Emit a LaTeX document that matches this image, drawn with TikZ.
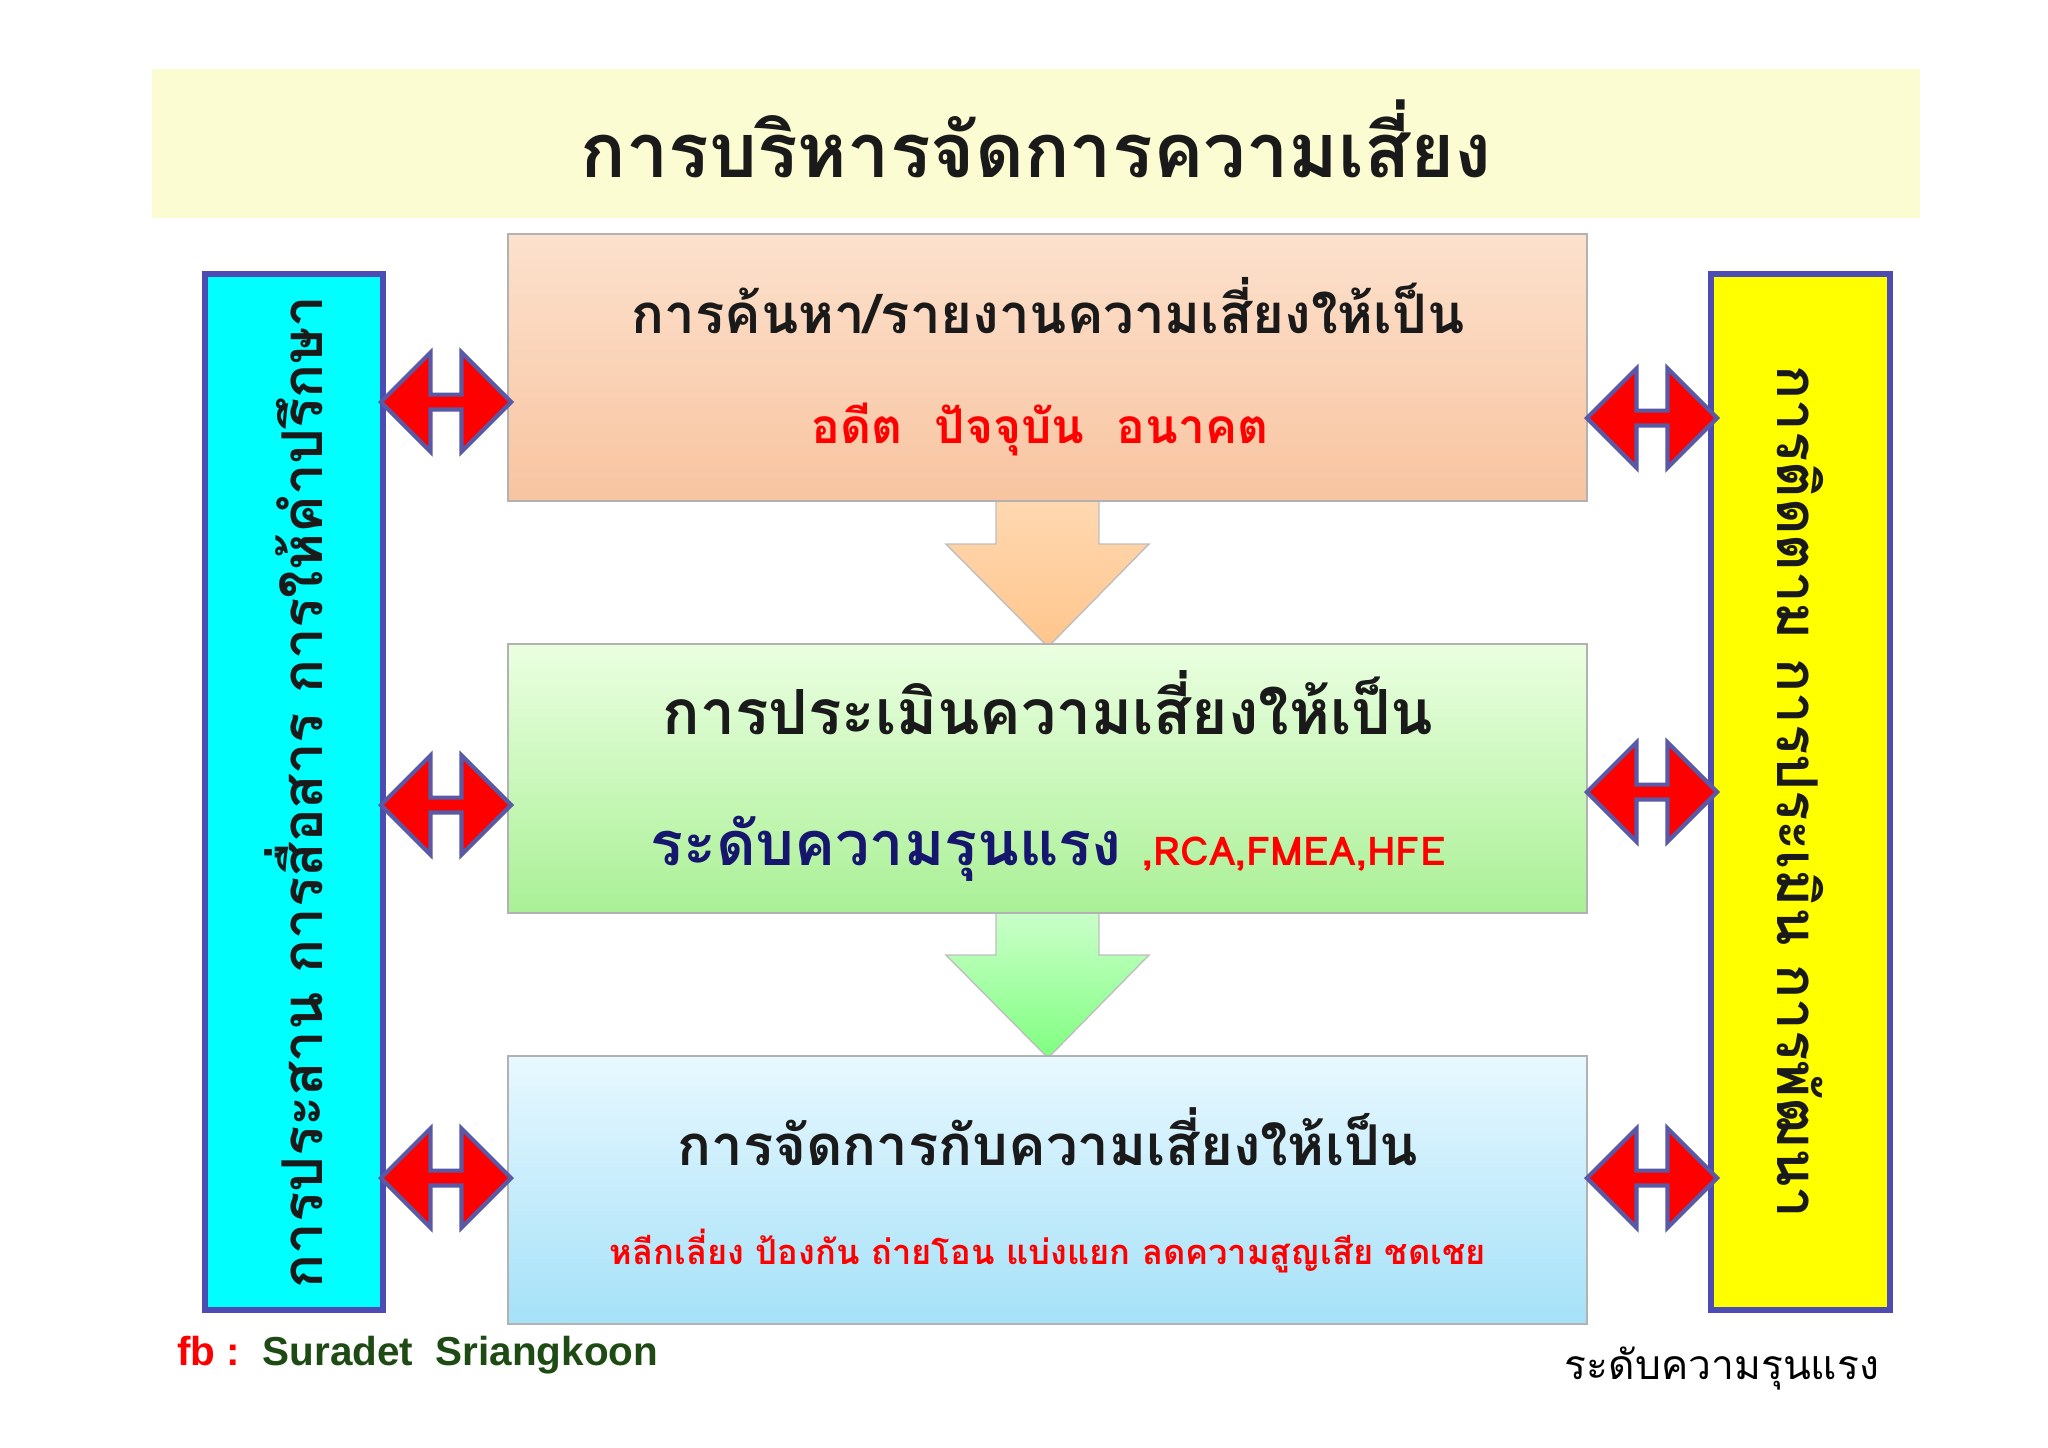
\documentclass[tikz,border=0pt]{standalone}
\usepackage{fontspec}
\newfontfamily\thai[Script=Thai]{Loma}
\setmainfont{Liberation Sans}
\usetikzlibrary{shapes.arrows}
\definecolor{titlebg}{HTML}{FCFCD2}
\definecolor{dk}{HTML}{1A1A1A}
\definecolor{navy}{HTML}{16166E}
\definecolor{fbgreen}{HTML}{1E4A14}
\definecolor{cyanbox}{HTML}{00FFFF}
\definecolor{yellowbox}{HTML}{FFFF00}
\tikzset{
 box/.style={draw=gray!60, line width=0.6pt},
 side/.style={draw=blue!40!gray, line width=1.5pt},
 dbl/.style={double arrow, fill=red, draw=gray!70!blue, line width=1.2pt, minimum width=0.99cm, minimum height=1.3cm, double arrow head extend=0.12cm, inner sep=0pt},
 down/.style={draw=gray!50, line width=0.4pt},
 head/.style={font=\thai\bfseries\fontsize{15.5}{15.5}\selectfont, text=dk},
}
\begin{document}
\begin{tikzpicture}[x=0.01cm,y=-0.01cm]
\useasboundingbox (0,0) rectangle (2048,1447);
\fill[white] (0,0) rectangle (2048,1447);
\fill[titlebg] (152,69) rectangle (1920,218);
\node[font=\thai\bfseries\fontsize{21.5}{21.5}\selectfont, text=dk] (title) at (1036,139) {การบริหารจัดการความเสี่ยง};
% arrows between boxes
\path[down, top color=orange!30, bottom color=orange!45] (996,495) -- (1099,495) -- (1099,544) -- (1149,544) -- (1048,647) -- (946,544) -- (996,544) -- cycle;
\node (d1) at (1048,574) {};
\path[down, top color=green!20, bottom color=green!50] (996,908) -- (1099,908) -- (1099,955) -- (1149,955) -- (1048,1058) -- (946,955) -- (996,955) -- cycle;
\node (d2) at (1048,985) {};
% boxes
\path[box, top color={rgb,255:red,252;green,225;blue,205}, bottom color={rgb,255:red,248;green,196;blue,160}] (508,234) rectangle (1587,501);
\node (b1) at (1048,367) {};
\path[box, top color={rgb,255:red,235;green,255;blue,225}, bottom color={rgb,255:red,170;green,240;blue,150}] (508,644) rectangle (1587,913);
\node (b2) at (1048,778) {};
\path[box, top color={rgb,255:red,232;green,248;blue,255}, bottom color={rgb,255:red,165;green,225;blue,248}] (508,1056) rectangle (1587,1324);
\node (b3) at (1048,1190) {};
\node[head] (t1) at (1048,306) {การค้นหา/รายงานความเสี่ยงให้เป็น};
\node[font=\thai\bfseries\fontsize{13.6}{13.6}\selectfont, text=red] (t1b) at (1040,429) {อดีต\ \ ปัจจุบัน\ \ อนาคต};
\node[head, font=\thai\bfseries\fontsize{17.7}{17.7}\selectfont] (t2) at (1048,703) {การประเมินความเสี่ยงให้เป็น};
\node[anchor=base, inner sep=0pt] (t2b) at (1048,865) {\thai\bfseries\fontsize{17.4}{17.4}\selectfont\color{navy}ระดับความรุนแรง \fontsize{11.3}{11.3}\selectfont\color{red},RCA,FMEA,HFE};
\node[head, font=\thai\bfseries\fontsize{16}{16}\selectfont] (t3) at (1048,1137) {การจัดการกับความเสี่ยงให้เป็น};
\node[font=\thai\bfseries\fontsize{9.8}{9.8}\selectfont, text=red] (t3b) at (1048,1251) {หลีกเลี่ยง ป้องกัน ถ่ายโอน แบ่งแยก ลดความสูญเสีย ชดเชย};
% side boxes
\draw[side, fill=cyanbox] (205,274) rectangle (383,1310);
\node[rotate=90, font=\thai\bfseries\fontsize{16}{16}\selectfont, text=dk] (lt) at (294,792) {การประสาน การสื่อสาร การให้คำปรึกษา};
\draw[side, fill=yellowbox] (1711,274) rectangle (1890,1310);
\node[rotate=-90, font=\thai\bfseries\fontsize{16}{16}\selectfont, text=dk] (rt) at (1800,792) {การติดตาม การประเมิน การพัฒนา};
% double arrows
\node[dbl] (l1) at (446,402) {};
\node[dbl] (l2) at (446,805) {};
\node[dbl] (l3) at (446,1178) {};
\node[dbl] (r1) at (1652,418) {};
\node[dbl] (r2) at (1652,792) {};
\node[dbl] (r3) at (1652,1178) {};
% footer
\node[anchor=west, font=\bfseries\fontsize{11.5}{11.5}\selectfont] (fb) at (165,1355) {\textcolor{red}{fb :}\ \ \textcolor{fbgreen}{Suradet\ \ Sriangkoon}};
\node[font=\thai\fontsize{11.6}{11.6}\selectfont, text=black] (br) at (1722,1368) {ระดับความรุนแรง};
\end{tikzpicture}
\end{document}
